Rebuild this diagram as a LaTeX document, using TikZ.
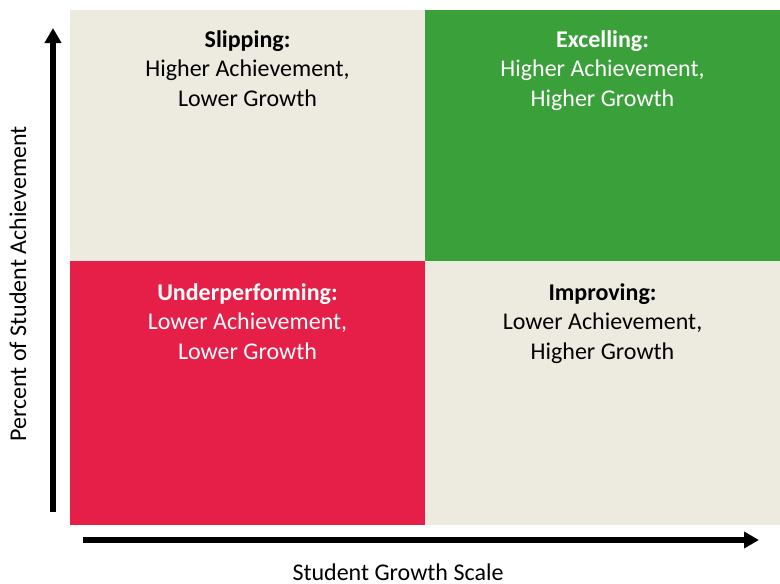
\documentclass[tikz,border=0pt]{standalone}
\usepackage{fontspec}
\setmainfont{Carlito}
\usetikzlibrary{arrows.meta}
\definecolor{sand}{HTML}{EDEADF}
\definecolor{leafgreen}{HTML}{3AA13A}
\definecolor{alertred}{HTML}{E61F48}
\begin{document}
\begin{tikzpicture}[x=1pt,y=-1pt]
\tikzstyle{every node}+=[inner sep=0pt]
\tikzstyle{quadtext}=[anchor=north, align=center, font=\fontsize{24}{29.5}\selectfont]
\tikzstyle{axis}=[line width=6pt, -{Triangle[length=15pt,width=16pt]}]
\useasboundingbox (0,0) rectangle (780,584);
% the four quadrants
\fill [sand] (70,10) rectangle (425,261);
\fill [leafgreen] (425,10) rectangle (780,261);
\fill [alertred] (70,261) rectangle (425,525);
\fill [sand] (425,261) rectangle (780,525);
\node [quadtext] (slip) at (247.5,30) {\textbf{Slipping:}\\Higher Achievement,\\Lower Growth};
\node [quadtext, white] (excel) at (602.5,30) {\textbf{Excelling:}\\Higher Achievement,\\Higher Growth};
\node [quadtext, white] (under) at (247.5,283) {\textbf{Underperforming:}\\Lower Achievement,\\Lower Growth};
\node [quadtext] (improve) at (602.5,283) {\textbf{Improving:}\\Lower Achievement,\\Higher Growth};
% axes
\coordinate (ybot) at (53,512);
\coordinate (ytop) at (53,28);
\coordinate (xleft) at (83,540);
\coordinate (xright) at (759,540);
\draw [axis] (ybot) -- (ytop);
\draw [axis] (xleft) -- (xright);
\node [rotate=90, font=\fontsize{24}{28}\selectfont] (ylabel) at (18,284) {Percent of Student Achievement};
\node [font=\fontsize{24}{28}\selectfont] (xlabel) at (398,572) {Student Growth Scale};
\end{tikzpicture}
\end{document}
